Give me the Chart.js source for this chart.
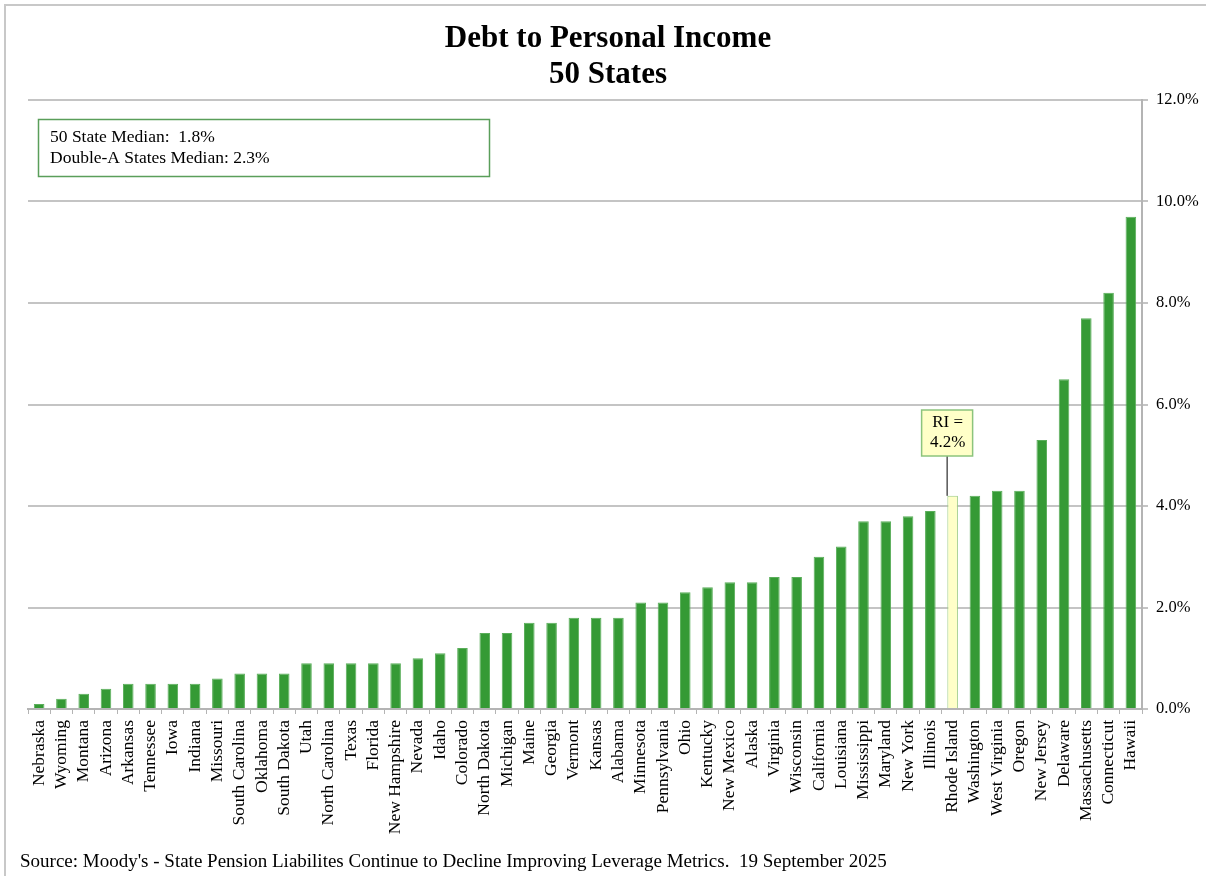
<!DOCTYPE html>
<html>
<head>
<meta charset="utf-8">
<script src="https://cdn.jsdelivr.net/npm/chart.js@4"></script>
<style>
  html, body { margin: 0; padding: 0; background: #fff; }
  #wrap { width: 1206px; height: 876px; position: relative; }
</style>
</head>
<body>
<div id="wrap"><canvas id="debtCanvas" width="1206" height="876"></canvas></div>
<script>
// States, sorted by debt as a share of personal income
const states = ['Nebraska', 'Wyoming', 'Montana', 'Arizona', 'Arkansas', 'Tennessee', 'Iowa', 'Indiana',
    'Missouri', 'South Carolina', 'Oklahoma', 'South Dakota', 'Utah', 'North Carolina', 'Texas', 'Florida',
    'New Hampshire', 'Nevada', 'Idaho', 'Colorado', 'North Dakota', 'Michigan', 'Maine', 'Georgia', 'Vermont',
    'Kansas', 'Alabama', 'Minnesota', 'Pennsylvania', 'Ohio', 'Kentucky', 'New Mexico', 'Alaska', 'Virginia',
    'Wisconsin', 'California', 'Louisiana', 'Mississippi', 'Maryland', 'New York', 'Illinois', 'Rhode Island',
    'Washington', 'West Virginia', 'Oregon', 'New Jersey', 'Delaware', 'Massachusetts', 'Connecticut', 'Hawaii'];

const debtPct = [0.1, 0.2, 0.3, 0.4, 0.5, 0.5, 0.5, 0.5,
    0.6, 0.7, 0.7, 0.7, 0.9, 0.9, 0.9, 0.9,
    0.9, 1.0, 1.1, 1.2, 1.5, 1.5, 1.7, 1.7, 1.8,
    1.8, 1.8, 2.1, 2.1, 2.3, 2.4, 2.5, 2.5, 2.6,
    2.6, 3.0, 3.2, 3.7, 3.7, 3.8, 3.9, 4.2,
    4.2, 4.3, 4.3, 5.3, 6.5, 7.7, 8.2, 9.7];

const yTicks = [0, 2, 4, 6, 8, 10, 12];
const highlightState = 'Rhode Island';
const calloutLines = ['RI =', '4.2%'];
const noteLines = ['50 State Median:  1.8%', 'Double-A States Median: 2.3%'];
const titleLines = ['Debt to Personal Income', '50 States'];
const sourceText = "Source: Moody's - State Pension Liabilites Continue to Decline Improving Leverage Metrics.  19 September 2025";

const SERIF = '"Liberation Serif", "Times New Roman", serif';
const GREEN = '#359a35';
const hiIndex = states.indexOf(highlightState);

// Title, median note box, RI callout, source line and frame
const decorations = {
    id: 'decorations',
    afterDraw(chart) {
        const ctx = chart.ctx;
        const x = chart.scales.x, y = chart.scales.y;
        ctx.save();

        // frame
        ctx.strokeStyle = '#c8c8c8';
        ctx.lineWidth = 2;
        ctx.strokeRect(5, 5, 1300, 1000);

        // title
        ctx.fillStyle = '#000';
        ctx.font = 'bold 31px ' + SERIF;
        ctx.textAlign = 'center';
        ctx.textBaseline = 'middle';
        ctx.fillText(titleLines[0], 608, 39);
        ctx.fillText(titleLines[1], 608, 75);

        // median note box
        ctx.strokeStyle = '#5a9e5a';
        ctx.lineWidth = 1.5;
        ctx.strokeRect(38.5, 119.5, 451, 57);
        ctx.font = '17.5px ' + SERIF;
        ctx.textAlign = 'left';
        ctx.fillText(noteLines[0], 50, 137);
        ctx.fillText(noteLines[1], 50, 158);

        // RI callout
        const bx = x.getPixelForValue(hiIndex);
        const by = y.getPixelForValue(debtPct[hiIndex]);
        ctx.strokeStyle = '#000';
        ctx.lineWidth = 1;
        ctx.beginPath();
        ctx.moveTo(bx - 5.5, 456);
        ctx.lineTo(bx - 5.5, by);
        ctx.stroke();
        ctx.fillStyle = '#ffffc8';
        ctx.fillRect(bx - 31, 410, 51, 46);
        ctx.strokeStyle = '#8cc47c';
        ctx.lineWidth = 1.5;
        ctx.strokeRect(bx - 31, 410, 51, 46);
        ctx.fillStyle = '#000';
        ctx.font = '17px ' + SERIF;
        ctx.textAlign = 'center';
        ctx.fillText(calloutLines[0], bx - 5, 423);
        ctx.fillText(calloutLines[1], bx - 5, 443);

        // source
        ctx.textAlign = 'left';
        ctx.font = '19px ' + SERIF;
        ctx.fillText(sourceText, 20, 862);
        ctx.restore();
    }
};

new Chart(document.getElementById('debtCanvas').getContext('2d'), {
    type: 'bar',
    data: {
        labels: states,
        datasets: [{
            data: debtPct,
            backgroundColor: states.map((s, i) => i === hiIndex ? '#ffffc8' : GREEN),
            borderColor: states.map((s, i) => i === hiIndex ? '#9ccc84' : '#5aae5a'),
            borderWidth: 1,
            barPercentage: 0.95,
            categoryPercentage: 0.5
        }]
    },
    options: {
        responsive: false,
        animation: false,
        layout: { padding: { left: 28, top: 100, right: 0, bottom: 0 } },
        plugins: {
            legend: { display: false },
            tooltip: { enabled: false }
        },
        scales: {
            x: {
                grid: { display: true, drawOnChartArea: false, offset: true, color: '#b4b4b4', tickLength: 5 },
                border: { color: '#b4b4b4', width: 2 },
                ticks: {
                    autoSkip: false,
                    minRotation: 90,
                    maxRotation: 90,
                    padding: 6,
                    color: '#000',
                    font: { family: SERIF, size: 17.5 }
                },
                afterFit(scale) { scale.height = 167; }
            },
            y: {
                position: 'right',
                min: 0,
                max: 12,
                afterBuildTicks(scale) { scale.ticks = yTicks.map(v => ({ value: v })); },
                grid: { color: '#c4c4c4', lineWidth: 2, tickLength: 6 },
                border: { color: '#b4b4b4', width: 2 },
                ticks: {
                    padding: 8,
                    color: '#000',
                    font: { family: SERIF, size: 16.5 },
                    callback: v => v.toFixed(1) + '%'
                },
                afterFit(scale) { scale.width = 64; }
            }
        }
    },
    plugins: [decorations]
});
</script>
</body>
</html>
